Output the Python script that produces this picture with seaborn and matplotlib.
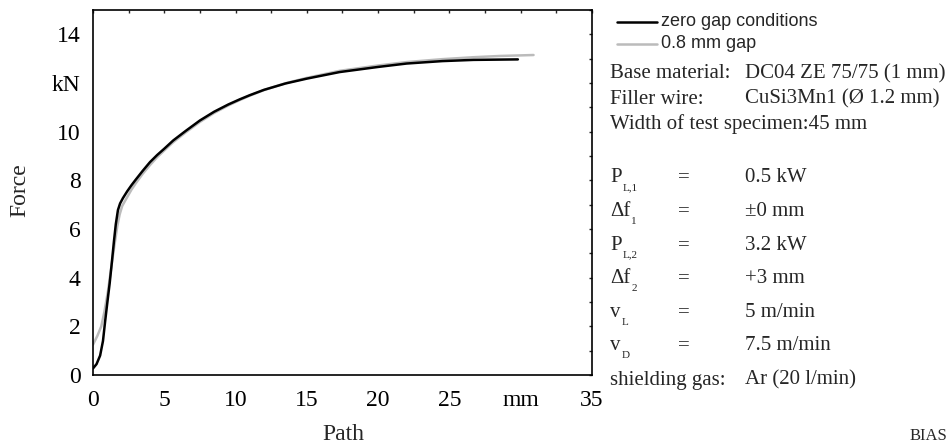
import matplotlib
matplotlib.use("Agg")
import matplotlib.pyplot as plt
import seaborn as sns
import pandas as pd
from matplotlib.ticker import MultipleLocator

# --- data ---
zero_path = [0.0, 0.25, 0.5, 0.7, 0.85, 1.0, 1.17, 1.3, 1.47, 1.6, 1.75, 1.9, 2.1, 2.4, 2.7, 3.0,
             3.5, 4.0, 4.5, 5.0, 5.63, 6.5, 7.5, 8.5, 9.5, 10.3, 11.0, 12.0, 13.5, 15.0, 17.3,
             20.0, 22.0, 24.5, 26.7, 29.8]
zero_force = [0.27, 0.45, 0.8, 1.4, 2.2, 2.95, 3.77, 4.5, 5.5, 6.2, 6.78, 7.05, 7.27, 7.55, 7.8, 8.03,
              8.4, 8.75, 9.04, 9.3, 9.64, 10.03, 10.46, 10.82, 11.12, 11.33, 11.5, 11.72, 11.98, 12.18, 12.45,
              12.66, 12.8, 12.9, 12.95, 12.97]
gap_path = [0.0, 0.3, 0.58, 0.8, 1.05, 1.3, 1.52, 1.7, 1.87, 2.05, 2.34, 2.7, 3.0, 3.5, 4.0, 4.5,
            5.0, 5.63, 6.5, 7.5, 8.5, 9.5, 10.3, 11.0, 12.0, 13.5, 15.0, 17.3, 20.0, 22.0, 24.5,
            26.7, 28.5, 30.9]
gap_force = [1.25, 1.6, 2.0, 2.6, 3.45, 4.5, 5.4, 6.1, 6.6, 6.95, 7.25, 7.62, 7.88, 8.28, 8.63, 8.95,
             9.23, 9.57, 9.97, 10.4, 10.77, 11.08, 11.3, 11.48, 11.71, 11.99, 12.21, 12.5, 12.72, 12.86, 12.98,
             13.06, 13.11, 13.15]
series_names = ["zero gap conditions", "0.8 mm gap"]
x_ticks = [0, 5, 10, 15, 20, 25, 30, 35]
x_ticklabels = ["0", "5", "10", "15", "20", "25", "mm", "35"]
y_ticks = [0, 2, 4, 6, 8, 10, 12, 14]
y_ticklabels = ["0", "2", "4", "6", "8", "10", "kN", "14"]

info_lines = [
    ("Base material:", "DC04 ZE 75/75 (1 mm)"),
    ("Filler wire:", "CuSi3Mn1 (Ø 1.2 mm)"),
]
param_names = [("P", "L,1"), ("Δf", "1"), ("P", "L,2"), ("Δf", "2"), ("v", "L"), ("v", "D")]
param_values = ["0.5 kW", "±0 mm", "3.2 kW", "+3 mm", "5 m/min", "7.5 m/min"]

df = pd.concat([
    pd.DataFrame({"Path": zero_path, "Force": zero_force, "series": series_names[0]}),
    pd.DataFrame({"Path": gap_path, "Force": gap_force, "series": series_names[1]}),
])

sns.set_style("white")
plt.rcParams["font.family"] = ["Liberation Serif", "DejaVu Serif"]

fig = plt.figure(figsize=(9.53, 4.46), dpi=100)
ax = fig.add_axes([93 / 953, 1 - 375 / 446, (592 - 93) / 953, (375 - 10) / 446])

palette = {series_names[0]: "#000000", series_names[1]: "#bbbbbb"}
sns.lineplot(data=df[df.series == series_names[1]], x="Path", y="Force", color=palette[series_names[1]],
             lw=1.8, ax=ax, sort=False, legend=False)
sns.lineplot(data=df[df.series == series_names[0]], x="Path", y="Force", color=palette[series_names[0]],
             lw=1.8, ax=ax, sort=False, legend=False)

ax.set_xlim(0, 35)
ax.set_ylim(0, 15)
ax.set_xticks(x_ticks)
ax.set_xticklabels(x_ticklabels)
ax.set_yticks(y_ticks)
ax.set_yticklabels(y_ticklabels)
ax.xaxis.set_minor_locator(MultipleLocator(2.5))
ax.yaxis.set_minor_locator(MultipleLocator(1))
ax.tick_params(axis="both", which="major", direction="out", length=6, width=1, labelsize=17,
               top=False, right=False, colors="black", pad=3)
ax.tick_params(axis="x", which="major", pad=5)
ax.tick_params(axis="both", which="minor", direction="out", length=3.5, width=1, top=False, right=False)
# tiny inward marks on the top/right frame
sec_x = ax.secondary_xaxis("top")
sec_x.set_xticks(x_ticks)
sec_x.xaxis.set_minor_locator(MultipleLocator(2.5))
sec_x.tick_params(which="both", direction="in", length=2, width=1, labeltop=False)
sec_x.spines["top"].set_visible(False)
sec_y = ax.secondary_yaxis("right")
sec_y.set_yticks(y_ticks)
sec_y.yaxis.set_minor_locator(MultipleLocator(1))
sec_y.tick_params(which="both", direction="in", length=2, width=1, labelright=False)
sec_y.spines["right"].set_visible(False)
for s in ax.spines.values():
    s.set_color("black")
    s.set_linewidth(1.2)
ax.set_xlabel("")
ax.set_ylabel("")

# axis labels
fig.text(343 / 953, 1 - 434 / 446, "Path", ha="center", va="center", fontsize=17)
fig.text(20 / 953, 1 - 190 / 446, "Force", ha="center", va="center", fontsize=17, rotation=90)
fig.text(910 / 953, 1 - 436 / 446, "BIAS", ha="left", va="center", fontsize=12)

# legend
for i, (name, c) in enumerate(zip(series_names, [palette[n] for n in series_names])):
    yy = 1 - (22 + 22 * i) / 446
    fig.add_artist(plt.Line2D([617 / 953, 657 / 953], [yy, yy], color=c, lw=1.8, transform=fig.transFigure))
    fig.text(661 / 953, yy, name, ha="left", va="center", fontsize=13, family=["Liberation Sans"])

fs = 15
# info text
for i, (k, v) in enumerate(info_lines):
    yy = 1 - (74 + 25 * i) / 446
    fig.text(610 / 953, yy, k, ha="left", va="center", fontsize=fs)
    fig.text(745 / 953, yy, v, ha="left", va="center", fontsize=fs)
fig.text(610 / 953, 1 - 124 / 446, "Width of test specimen:45 mm", ha="left", va="center", fontsize=fs)

fig.canvas.draw()
for i, ((base, sub), val) in enumerate(zip(param_names, param_values)):
    yy = 1 - (178 + 33.6 * i) / 446
    t = fig.text(610 / 953, yy, base, ha="left", va="center", fontsize=fs)
    bb = t.get_window_extent(renderer=fig.canvas.get_renderer())
    fig.text((bb.x1 + 1) / 953, yy - 10 / 446, sub, ha="left", va="center", fontsize=8)
    fig.text(678 / 953, yy, "=", ha="left", va="center", fontsize=fs)
    fig.text(745 / 953, yy, val, ha="left", va="center", fontsize=fs)
fig.text(610 / 953, 1 - 380 / 446, "shielding gas:", ha="left", va="center", fontsize=fs)
fig.text(745 / 953, 1 - 380 / 446, "Ar (20 l/min)", ha="left", va="center", fontsize=fs)

fig.savefig("out.png", dpi=100)
